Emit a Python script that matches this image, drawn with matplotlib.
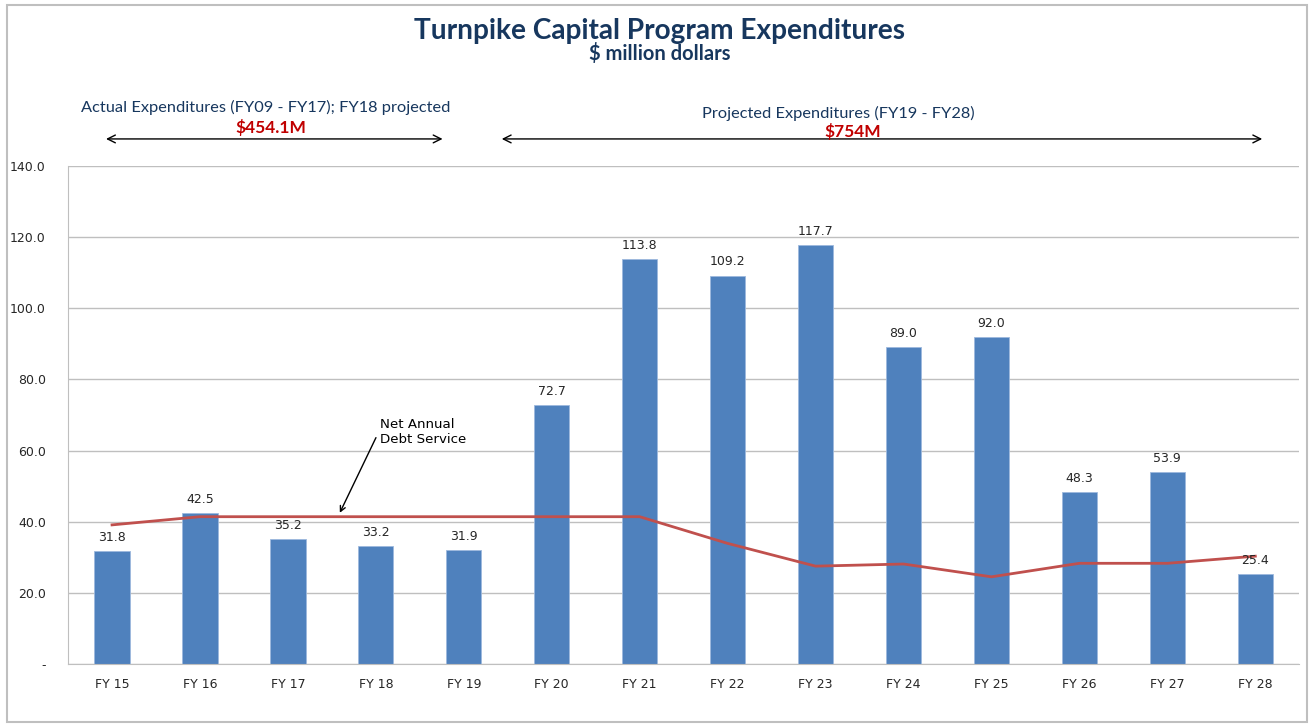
import numpy as np
import matplotlib.pyplot as plt
from matplotlib.patches import Rectangle

years = ['FY 15', 'FY 16', 'FY 17', 'FY 18', 'FY 19', 'FY 20', 'FY 21',
         'FY 22', 'FY 23', 'FY 24', 'FY 25', 'FY 26', 'FY 27', 'FY 28']
expenditures = [31.8, 42.5, 35.2, 33.2, 31.9, 72.7, 113.8,
                109.2, 117.7, 89.0, 92.0, 48.3, 53.9, 25.4]
debt_service = [39.1, 41.4, 41.4, 41.4, 41.4, 41.4, 41.4,
                33.9, 27.5, 28.1, 24.5, 28.3, 28.3, 30.3]

navy = '#17375E'
fig = plt.figure(figsize=(13.14, 7.27), dpi=100)
fig.patches.append(Rectangle((0.005, 0.007), 0.99, 0.986, transform=fig.transFigure,
                             fill=False, edgecolor='#BFBFBF', linewidth=1.5))
ax = fig.add_axes([0.0518, 0.0867, 0.937, 0.685])

x = np.arange(len(years))
ax.bar(x, expenditures, width=0.4, color='#4F81BD', edgecolor='#9DB9DE', linewidth=0.6, zorder=2)
ax.plot(x, debt_service, color='#C0504D', linewidth=2, zorder=3)
for xi, v in zip(x, expenditures):
    ax.text(xi, v + 2, f'{v:.1f}', ha='center', va='bottom', fontsize=9, color='#262626')

ax.set_xlim(-0.5, 13.5)
ax.set_ylim(0, 140)
ax.set_yticks(np.arange(0, 141, 20))
ax.set_yticklabels(['-'] + [f'{v:.1f}' for v in range(20, 141, 20)])
ax.set_xticks(x)
ax.set_xticklabels(years)
ax.tick_params(length=0, labelsize=9, colors='#262626', pad=10)
ax.tick_params(axis='y', pad=16)
ax.grid(axis='y', color='#BFBFBF', linewidth=1, zorder=0)
ax.set_axisbelow(True)
for s in ['top', 'right']:
    ax.spines[s].set_visible(False)
for s in ['left', 'bottom']:
    ax.spines[s].set_color('#BFBFBF')

fig.text(0.502, 0.958, 'Turnpike Capital Program Expenditures', ha='center', va='center',
         fontsize=20.2, fontweight='bold', color=navy, family='Lato')
fig.text(0.502, 0.926, '$ million dollars', ha='center', va='center',
         fontsize=14.5, fontweight='bold', color=navy, family='Lato')

# period arrows and labels
arrow = dict(arrowstyle='<->', color='black', lw=1, mutation_scale=14)
ax.annotate('', xy=(-0.10, 147.6), xytext=(3.79, 147.6), arrowprops=arrow, annotation_clip=False)
ax.annotate('', xy=(4.40, 147.6), xytext=(13.11, 147.6), arrowprops=arrow, annotation_clip=False)
ax.text(1.75, 156.5, 'Actual Expenditures (FY09 - FY17); FY18 projected', ha='center', va='center',
        fontsize=11.8, color=navy, family='Lato', clip_on=False)
ax.text(1.8, 150.8, '$454.1M', ha='center', va='center', fontsize=12.5, fontweight='bold',
        color='#C00000', family='Lato', clip_on=False)
ax.text(8.26, 154.8, 'Projected Expenditures (FY19 - FY28)', ha='center', va='center',
        fontsize=11.8, color=navy, family='Lato', clip_on=False)
ax.text(8.42, 149.6, '$754M', ha='center', va='center', fontsize=12.5, fontweight='bold',
        color='#C00000', family='Lato', clip_on=False)

# debt service callout
ax.annotate('Net Annual\nDebt Service', xy=(2.59, 42.5), xytext=(3.05, 65.2),
            fontsize=9.6, color='black', ha='left', va='center',
            arrowprops=dict(arrowstyle='->', color='black', lw=1, shrinkA=0, shrinkB=0,
                            relpos=(-0.05, 0.3)))

fig.savefig('out.png', dpi=100)
